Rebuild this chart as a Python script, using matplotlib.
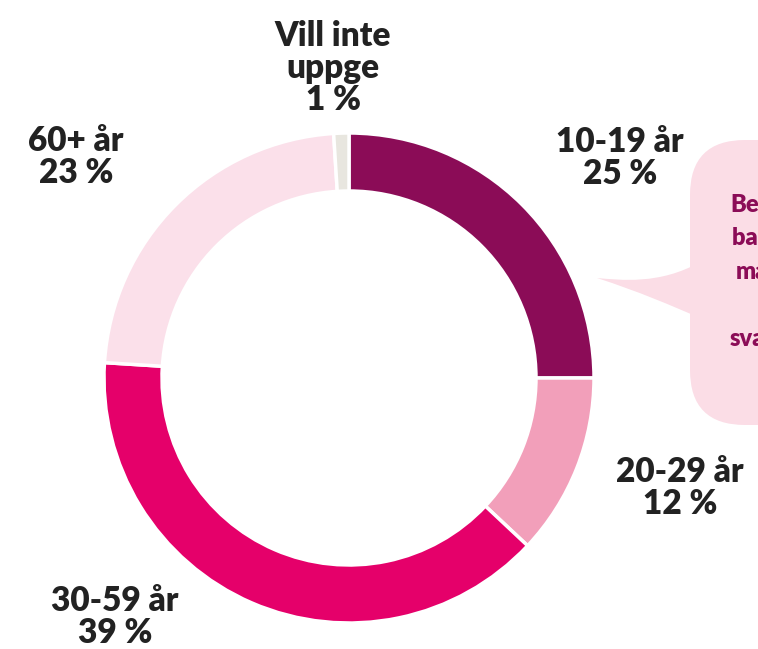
import matplotlib.pyplot as plt
from matplotlib.patches import FancyBboxPatch, PathPatch
from matplotlib.path import Path

# data
groups = ['10-19 år', '20-29 år', '30-59 år', '60+ år', 'Vill inte\nuppge']
shares = [25, 12, 39, 23, 1]
colors = ['#8b0c57', '#f29fba', '#e5006a', '#fbe0ea', '#e8e6df']

W, H = 758, 649
fig = plt.figure(figsize=(W / 100, H / 100), dpi=100)
ax = fig.add_axes([0, 0, 1, 1])

# speech bubble (behind)
bubble_col = '#fbdde6'
ax.add_patch(FancyBboxPatch((690, H - 425), 140, 285,
                            boxstyle='round,pad=0,rounding_size=55',
                            fc=bubble_col, ec='none', zorder=0))
tail = Path([(700, H - 262), (660, H - 285), (620, H - 280), (597, H - 278),
             (640, H - 292), (670, H - 305), (700, H - 318), (700, H - 262)],
            [Path.MOVETO, Path.CURVE4, Path.CURVE4, Path.CURVE4,
             Path.CURVE4, Path.CURVE4, Path.CURVE4, Path.CLOSEPOLY])
ax.add_patch(PathPatch(tail, fc=bubble_col, ec='none', zorder=0))
ax.text(778, H - 272, 'Besvarat\nbarn och\nmamma\nav\nsvarande',
        ha='center', va='center', color='#8b0c57', fontsize=17,
        fontweight='heavy', family='Lato', linespacing=1.65, zorder=1)

# donut
ax.pie(shares, colors=colors, startangle=90, counterclock=False,
       center=(349, H - 378), radius=245,
       wedgeprops=dict(width=58, edgecolor='white', linewidth=2.5))

# labels
lab_kw = dict(ha='center', va='center', fontsize=24, fontweight='heavy',
              family='Lato', color='#222222', linespacing=1.0)
label_pos = [(620, 158), (680, 488), (115, 617), (76, 157), (333, 68)]
for g, s, (x, y) in zip(groups, shares, label_pos):
    ax.text(x, H - y, f'{g}\n{s} %', **lab_kw)

ax.set_xlim(0, W)
ax.set_ylim(0, H)
ax.set_aspect('equal')
ax.axis('off')
fig.savefig('out.png', dpi=100)
